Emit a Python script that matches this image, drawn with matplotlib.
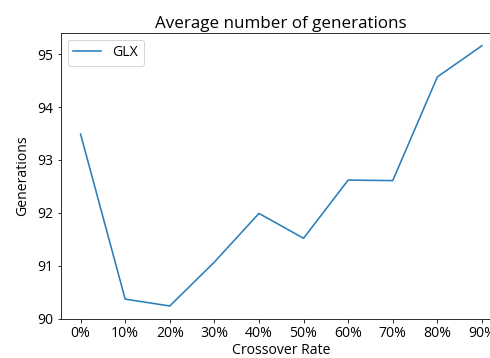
import matplotlib
matplotlib.use("Agg")
import matplotlib.pyplot as plt

plt.rcParams["font.family"] = ["Open Sans", "DejaVu Sans"]
plt.rcParams["font.size"] = 14
plt.rcParams["axes.titlesize"] = 17

rates = ["0%", "10%", "20%", "30%", "40%", "50%", "60%", "70%", "80%", "90%"]
generations = [93.49, 90.37, 90.24, 91.07, 91.99, 91.52, 92.62, 92.61, 94.57, 95.16]

dpi = 72
fig = plt.figure(figsize=(490 / dpi, 358 / dpi), dpi=dpi)
# axes run a little past the right edge of the canvas
ax = fig.add_axes([60.5 / 490, 1 - 319 / 358, (502 - 60.5) / 490, (319 - 32.7) / 358])

ax.plot(rates, generations, label="GLX", lw=1.6, color="#2a7fba")
ax.set_title("Average number of generations", pad=5)
ax.set_xlabel("Crossover Rate", labelpad=2)
ax.set_ylabel("Generations", labelpad=7)
ax.legend(loc="upper left")

fig.savefig("out.png", dpi=dpi)
